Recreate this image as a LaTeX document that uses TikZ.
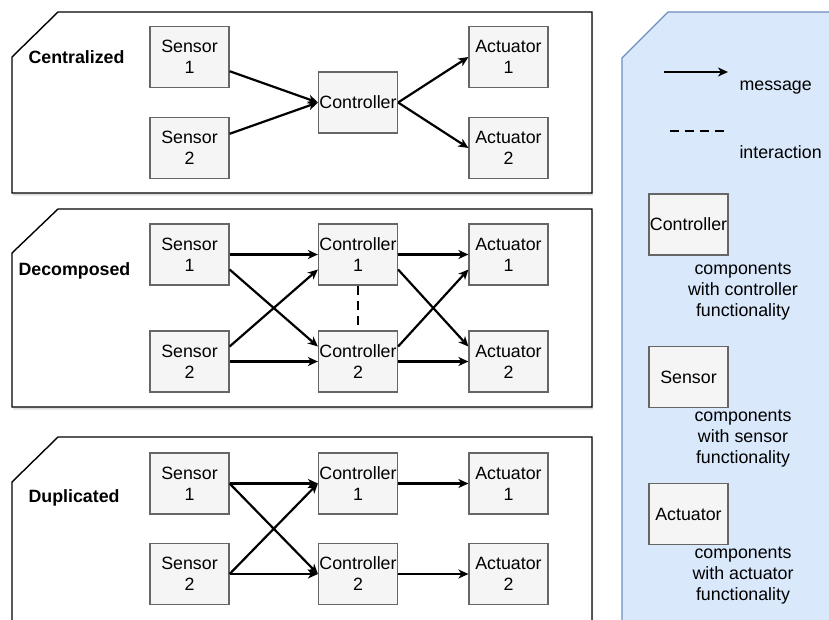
\documentclass[tikz,border=0pt]{standalone}
\usepackage{fontspec}
\setmainfont{Liberation Sans}
\usetikzlibrary{arrows.meta,shadows}
\definecolor{boxfill}{HTML}{F5F5F5}
\definecolor{boxline}{HTML}{666666}
\definecolor{legfill}{HTML}{DAE8FC}
\definecolor{legline}{HTML}{6C8EBF}

\begin{document}
\begin{tikzpicture}[
      x=1pt,y=-1pt,
      >={Stealth[length=10pt,width=9pt,inset=3pt]},
      comp/.style={draw=boxline,fill=boxfill,line width=1.2pt,minimum width=79pt,minimum height=61pt,inner sep=0pt,align=center,font=\fontsize{17.8}{21}\selectfont},
      panel/.style={draw=black,line width=1.4pt,fill=white,drop shadow={shadow xshift=1pt,shadow yshift=-2.5pt,opacity=0.25}},
      title/.style={anchor=west,font=\bfseries\fontsize{17.8}{21}\selectfont},
      note/.style={align=center,font=\fontsize{17.8}{21}\selectfont},
      msg/.style={->,line width=2.2pt},
      inter/.style={line width=2.2pt,dash pattern=on 9pt off 6pt}
    ]
    \useasboundingbox (0,0) rectangle (829,619);
    \clip (0,0) rectangle (829,619);

    % frames
    \draw[panel] (58,12) -- (592,12) -- (592,193) -- (12,193) -- (12,57) -- cycle;
    \draw[panel] (58,209) -- (592,209) -- (592,407) -- (12,407) -- (12,253) -- cycle;
    \draw[panel] (58,437) -- (592,437) -- (592,650) -- (12,650) -- (12,482) -- cycle;
    \draw[draw=legline,fill=legfill,line width=1.2pt] (668,12) -- (860,12) -- (860,650) -- (622,650) -- (622,58) -- cycle;

    % centralized
    \node[title] (tcen) at (25,57) {Centralized};
    \node[comp] (cs1) at (189.5,57) {Sensor\\1};
    \node[comp] (cs2) at (189.5,148) {Sensor\\2};
    \node[comp] (cctl) at (358,102.5) {Controller};
    \node[comp] (ca1) at (508.5,57) {Actuator\\1};
    \node[comp] (ca2) at (508.5,148) {Actuator\\2};
    \draw[msg] (cs1) -- (cctl.west);
    \draw[msg] (cs2) -- (cctl.west);
    \draw[msg] (cctl.east) -- (ca1.west);
    \draw[msg] (cctl.east) -- (ca2.west);

    % decomposed
    \node[title] (tdec) at (15,271) {Decomposed};
    \node[comp] (ds1) at (189.5,254.5) {Sensor\\1};
    \node[comp] (ds2) at (189.5,361.5) {Sensor\\2};
    \node[comp] (dc1) at (358,254.5) {Controller\\1};
    \node[comp] (dc2) at (358,361.5) {Controller\\2};
    \node[comp] (da1) at (508.5,254.5) {Actuator\\1};
    \node[comp] (da2) at (508.5,361.5) {Actuator\\2};
    \draw[msg] (ds1.east) -- (dc1.west);
    \draw[msg] (ds2.east) -- (dc2.west);
    \draw[msg] ([yshift=-15pt]ds1.east) -- ([yshift=15pt]dc2.west);
    \draw[msg] ([yshift=15pt]ds2.east) -- ([yshift=-15pt]dc1.west);
    \draw[msg] (dc1.east) -- (da1.west);
    \draw[msg] (dc2.east) -- (da2.west);
    \draw[msg] ([yshift=-15pt]dc1.east) -- ([yshift=15pt]da2.west);
    \draw[msg] ([yshift=15pt]dc2.east) -- ([yshift=-15pt]da1.west);
    \draw[inter] (dc1.south) -- (dc2.north);

    % duplicated
    \node[title] (tdup) at (25,498) {Duplicated};
    \node[comp] (us1) at (189.5,483.5) {Sensor\\1};
    \node[comp] (us2) at (189.5,574) {Sensor\\2};
    \node[comp] (uc1) at (358,483.5) {Controller\\1};
    \node[comp] (uc2) at (358,574) {Controller\\2};
    \node[comp] (ua1) at (508.5,483.5) {Actuator\\1};
    \node[comp] (ua2) at (508.5,574) {Actuator\\2};
    \foreach \s in {us1,us2}
      \foreach \c in {uc1,uc2}
        \draw[msg] (\s.east) -- (\c.west);
    \draw[msg] (uc1.east) -- (ua1.west);
    \draw[msg] (uc2.east) -- (ua2.west);

    % legend
    \coordinate (msgA) at (664,72);
    \coordinate (msgB) at (728,72);
    \draw[msg] (msgA) -- (msgB);
    \node[note,anchor=west] (lmsg) at (736,88) {message};
    \coordinate (intA) at (670,131);
    \coordinate (intB) at (729,131);
    \draw[inter] (intA) -- (intB);
    \node[note,anchor=west] (lint) at (736,152) {interaction};
    \node[comp] (lctl) at (688.5,224.5) {Controller};
    \node[note] (tctl) at (743,291.5) {components\\with controller\\functionality};
    \node[comp] (lsen) at (688.5,377) {Sensor};
    \node[note] (tsen) at (743,438.5) {components\\with sensor\\functionality};
    \node[comp] (lact) at (688.5,514) {Actuator};
    \node[note] (tact) at (743,575.5) {components\\with actuator\\functionality};
  \end{tikzpicture}
\end{document}
